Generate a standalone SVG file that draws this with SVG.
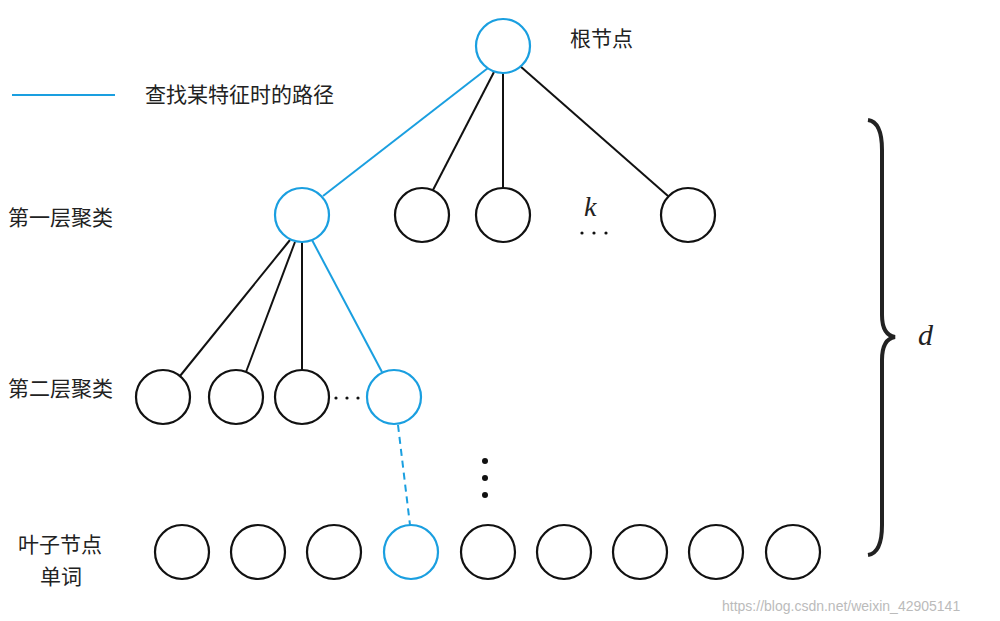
<svg xmlns="http://www.w3.org/2000/svg" width="1000" height="621" viewBox="0 0 1000 621">
<style>
.n{fill:#fff;stroke:#111;stroke-width:2.2}
.b{stroke:#1a9fe0}
.e{stroke:#111;stroke-width:2;fill:none}
.eb{stroke:#1a9fe0;stroke-width:2;fill:none}
text{font-family:"Noto Sans CJK SC","Liberation Sans",sans-serif;font-size:21px;fill:#222}
.i{font-family:"Liberation Serif",serif;font-style:italic;font-size:30px}
</style>
<rect width="1000" height="621" fill="#fff"/>
<g id="connectors">
<line class="eb" x1="488" y1="68" x2="323" y2="196"/>
<line class="e" x1="494" y1="72" x2="433" y2="190"/>
<line class="e" x1="503" y1="73" x2="503" y2="188"/>
<line class="e" x1="520" y1="66" x2="668" y2="196"/>
<line class="e" x1="290" y1="240" x2="180" y2="376"/>
<line class="e" x1="295" y1="242" x2="246" y2="372"/>
<line class="e" x1="302" y1="242" x2="302" y2="370"/>
<line class="eb" x1="312" y1="240" x2="382" y2="372"/>
<line class="eb" x1="398" y1="425" x2="410" y2="525" stroke-dasharray="7,5"/>
<line class="eb" x1="12" y1="95" x2="115" y2="95"/>
</g>
<g id="root"><circle class="n b" cx="503" cy="46" r="27"/></g>
<g id="l1a"><circle class="n b" cx="302" cy="215" r="27"/></g>
<g id="l1b"><circle class="n" cx="422" cy="215" r="27"/></g>
<g id="l1c"><circle class="n" cx="503" cy="215" r="27"/></g>
<g id="l1d"><circle class="n" cx="688" cy="215" r="27"/></g>
<g id="l2a"><circle class="n" cx="163" cy="397" r="27"/></g>
<g id="l2b"><circle class="n" cx="236" cy="397" r="27"/></g>
<g id="l2c"><circle class="n" cx="302" cy="397" r="27"/></g>
<g id="l2d"><circle class="n b" cx="394" cy="397" r="27"/></g>
<g id="leaves">
<circle class="n" cx="182" cy="552" r="27"/>
<circle class="n" cx="258" cy="552" r="27"/>
<circle class="n" cx="334" cy="552" r="27"/>
<circle class="n b" cx="411" cy="552" r="27"/>
<circle class="n" cx="488" cy="552" r="27"/>
<circle class="n" cx="564" cy="552" r="27"/>
<circle class="n" cx="640" cy="552" r="27"/>
<circle class="n" cx="716" cy="552" r="27"/>
<circle class="n" cx="793" cy="552" r="27"/>
</g>
<g id="dots" fill="#111">
<circle cx="582" cy="233" r="1.6"/><circle cx="594" cy="233" r="1.6"/><circle cx="606" cy="233" r="1.6"/>
<circle cx="336" cy="398" r="1.6"/><circle cx="347" cy="398" r="1.6"/><circle cx="358" cy="398" r="1.6"/>
<circle cx="485" cy="461" r="3"/><circle cx="485" cy="478" r="3"/><circle cx="485" cy="495" r="3"/>
</g>
<path d="M868,120 Q882,122 882,150 L882,315 Q882,335 895,337 Q882,339 882,360 L882,525 Q882,553 868,555" fill="none" stroke="#222" stroke-width="4"/>
<text class="i" x="918" y="345">d</text>
<text class="i" x="584" y="216" style="font-size:28px">k</text>
<text x="570" y="46">根节点</text>
<text x="145" y="102">查找某特征时的路径</text>
<text x="8" y="225">第一层聚类</text>
<text x="8" y="396">第二层聚类</text>
<text x="18" y="552">叶子节点</text>
<text x="40" y="584">单词</text>
<text x="722" y="611" style="font-size:14px;fill:#bbb;font-family:'Liberation Sans',sans-serif">https://blog.csdn.net/weixin_42905141</text>
</svg>
